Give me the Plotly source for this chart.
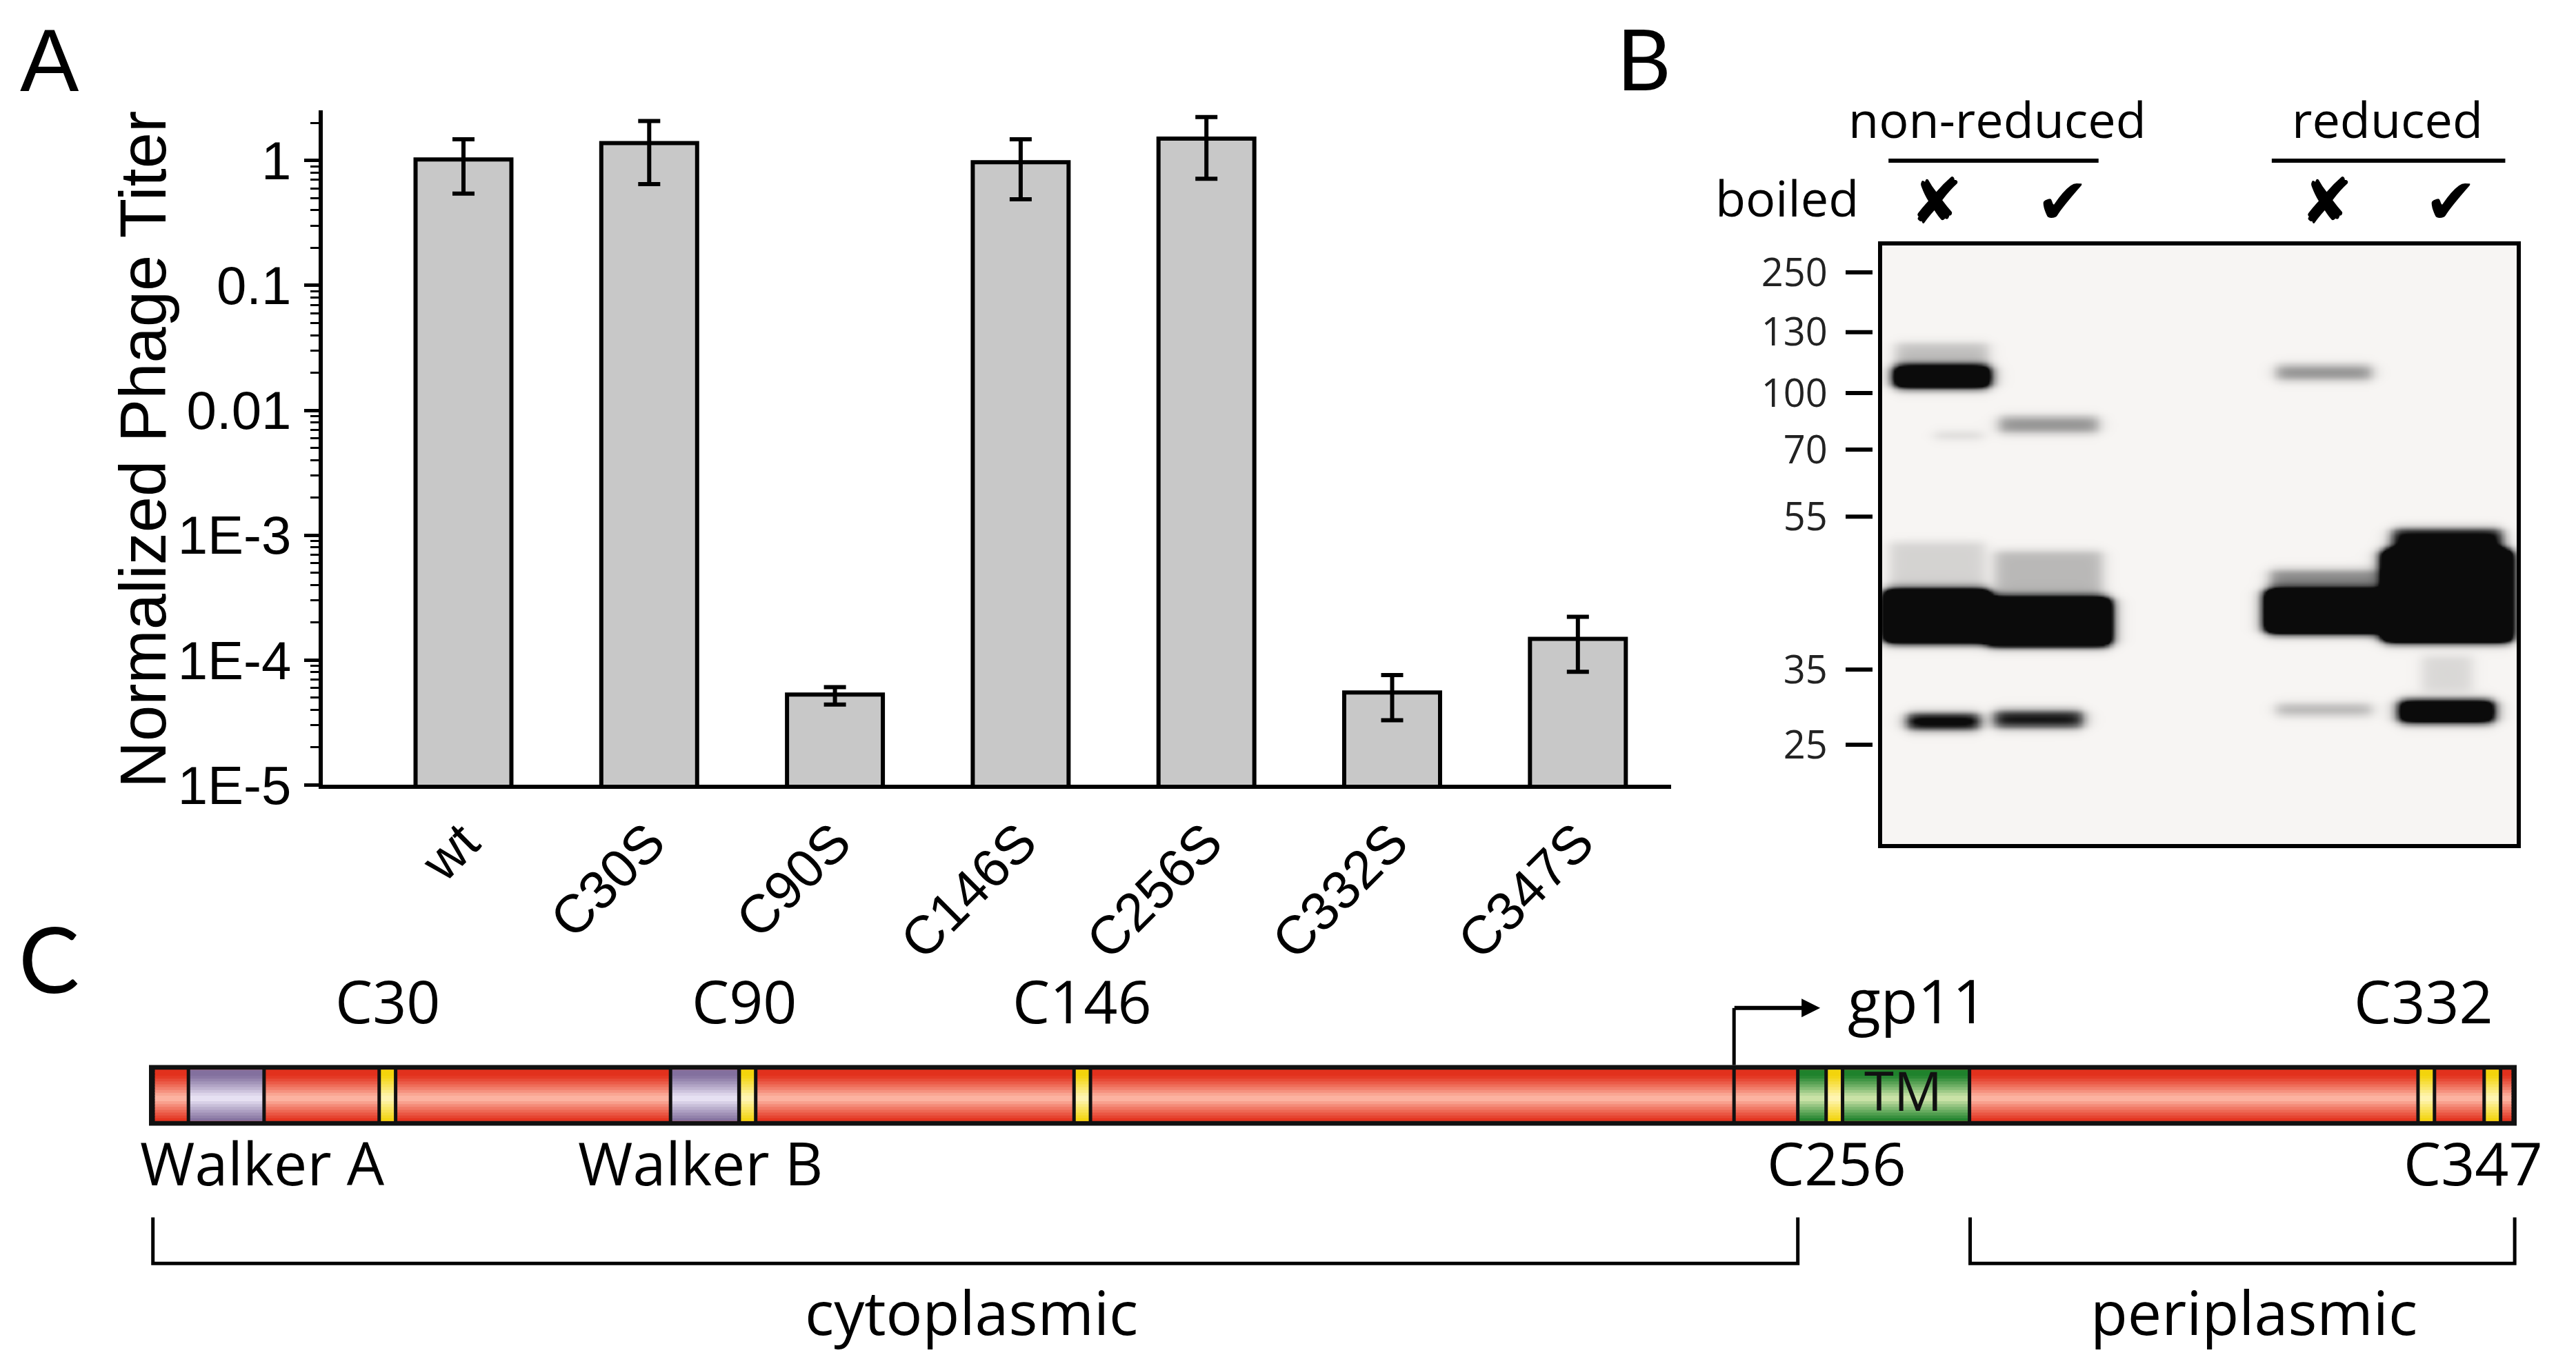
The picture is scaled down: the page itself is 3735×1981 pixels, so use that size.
import numpy as np
import plotly.graph_objects as go

W, H = 3735, 1981


def px(x):
    return x / W


def py(y):
    return 1 - y / H


# ---------------- Panel A data ----------------
mutants = ["wt", "C30S", "C90S", "C146S", "C256S", "C332S", "C347S"]
titer = [1.02, 1.38, 5.3e-5, 0.97, 1.50, 5.5e-5, 1.48e-4]
titer_hi = [1.48, 2.07, 6.07e-5, 1.48, 2.23, 7.6e-5, 2.22e-4]
titer_lo = [0.544, 0.647, 4.4e-5, 0.49, 0.716, 3.3e-5, 8.07e-5]
ytick_vals = [1e-5, 1e-4, 1e-3, 0.01, 0.1, 1]
ytick_text = ["1E-5", "1E-4", "1E-3", "0.01", "0.1", "1"]

# ---------------- Panel B data ----------------
mw_labels = ["250", "130", "100", "70", "55", "35", "25"]
mw_pos = [0.45, 1.45, 2.465, 3.41, 4.53, 7.085, 8.34]
lane_x = [0.85, 2.84, 7.01, 8.96]
lane_boiled = [False, True, False, True]
group_names = ["non-reduced", "reduced"]
group_center = [1.82, 7.96]
group_start = [0.10, 6.14]
group_end = [3.41, 9.82]
# bands: lane x-centre, half-width, migration centre, half-height, intensity
band_x = [0.94, 0.94, 1.20, 2.62, 6.96, 0.86, 0.86, 2.62, 2.62, 6.96, 6.96, 8.90, 8.90, 8.90, 0.96, 2.46, 6.96, 8.89]
band_hw = [0.73, 0.73, 0.38, 0.78, 0.75, 0.81, 0.75, 0.95, 0.85, 0.90, 0.85, 1.00, 0.85, 0.40, 0.56, 0.69, 0.75, 0.73]
band_y = [2.19, 1.85, 3.17, 2.99, 2.12, 6.19, 5.40, 6.28, 5.50, 6.11, 5.62, 5.85, 5.00, 7.15, 7.95, 7.91, 7.75, 7.78]
band_hh = [0.16, 0.22, 0.07, 0.13, 0.12, 0.42, 0.45, 0.38, 0.40, 0.34, 0.20, 0.75, 0.25, 0.30, 0.12, 0.13, 0.10, 0.17]
band_int = [2.5, 0.22, 0.10, 0.40, 0.40, 3.0, 0.14, 3.0, 0.25, 3.0, 0.45, 3.0, 1.2, 0.12, 1.2, 1.0, 0.25, 2.0]

# ---------------- Panel C data ----------------
bar_len = 360.0
domain_names = ["Walker A", "Walker B", "TM"]
domain_start = [6.0, 79.3, 250.7]
domain_end = [17.5, 89.7, 276.8]
domain_kind = ["walker", "walker", "tm"]
cys_names = ["C30", "C90", "C146", "C256", "C332", "C347"]
cys_pos = [36.25, 91.0, 141.9, 256.25, 346.25, 356.3]
gp11_start = 241.0
gp11_arrow_end = 254.1
labels_above = ["C30", "C90", "C146", "C332"]
labels_above_x = [36.3, 90.6, 141.9, 345.8]
labels_below = ["Walker A", "Walker B", "C256", "C347"]
labels_below_x = [17.3, 83.8, 256.6, 353.4]
region_names = ["cytoplasmic", "periplasmic"]
region_start = [0.6, 276.9]
region_end = [250.7, 359.7]
region_label_x = [125.0, 320.0]

ARIAL = "Liberation Sans, Arial, sans-serif"
MYRIAD = "Open Sans, Noto Sans, sans-serif"
LETTER = "Lato, Open Sans, sans-serif"

fig = go.Figure()

# Panel A bars
fig.add_trace(go.Bar(
    x=mutants, y=titer, width=0.516,
    marker=dict(color="#c8c8c8", line=dict(color="black", width=6)),
    error_y=dict(type="data", symmetric=False,
                 array=[h - v for h, v in zip(titer_hi, titer)],
                 arrayminus=[v - l for v, l in zip(titer, titer_lo)],
                 color="black", thickness=6, width=16),
    xaxis="x", yaxis="y", hoverinfo="skip"))

# Panel B blot (rendered from band list)
xg = np.linspace(0, 10, 401)
yg = np.linspace(0, 10, 401)
X, Y = np.meshgrid(xg, yg)
Z = np.zeros_like(X)
for cx, hw, cy, hh, inten in zip(band_x, band_hw, band_y, band_hh, band_int):
    fx = 1.0 / (1.0 + np.exp((np.abs(X - cx) - hw) / 0.06))
    fy = 1.0 / (1.0 + np.exp((np.abs(Y - cy) - hh) / 0.04))
    Z += inten * fx * fy
Z = np.round(np.clip(Z, 0, 1), 3)
fig.add_trace(go.Heatmap(
    x=xg, y=yg, z=Z, zmin=0, zmax=1, showscale=False, zsmooth="best",
    colorscale=[[0, "#f7f5f3"], [0.5, "#7a7a7a"], [1, "#0b0b0b"]],
    xaxis="x2", yaxis="y2", hoverinfo="skip"))

# Panel C anchor trace (invisible)
fig.add_trace(go.Scatter(x=cys_pos, y=[0] * len(cys_pos), mode="markers",
                         marker=dict(size=1, opacity=0), xaxis="x3", yaxis="y3",
                         hoverinfo="skip"))

shapes = []
annotations = []

# ---- Panel B decorations ----
for pos in mw_pos:
    shapes.append(dict(type="line", xref="paper", yref="y2",
                       x0=px(2668), x1=px(2707), y0=pos, y1=pos,
                       line=dict(color="black", width=6)))
for name, c, s, e in zip(group_names, group_center, group_start, group_end):
    shapes.append(dict(type="line", xref="x2", yref="paper", x0=s, x1=e,
                       y0=py(225), y1=py(225), line=dict(color="black", width=6)))
    annotations.append(dict(text=name, xref="x2", yref="paper", x=c, y=py(164),
                            showarrow=False, xanchor="center", yanchor="middle",
                            font=dict(family=MYRIAD, size=72, color="black")))
annotations.append(dict(text="boiled", xref="paper", yref="paper", x=px(2689), y=py(278),
                        showarrow=False, xanchor="right", yanchor="middle",
                        font=dict(family=MYRIAD, size=72, color="black")))
for lx, b in zip(lane_x, lane_boiled):
    annotations.append(dict(text="✔" if b else "✘", xref="x2", yref="paper", x=lx, y=py(284),
                            showarrow=False, xanchor="center", yanchor="middle",
                            font=dict(family="DejaVu Sans", size=92, color="black")))

# ---- Panel C diagram ----
def hx(c):
    c = c.lstrip("#")
    return tuple(int(c[i:i + 2], 16) for i in (0, 2, 4))


def mix(c1, c2, t):
    return "#%02x%02x%02x" % tuple(int(round(a + (b - a) * t)) for a, b in zip(c1, c2))


grad = {
    "red": (hx("#e2311d"), hx("#fcb2a0")),
    "walker": (hx("#83709e"), hx("#e6e0f2")),
    "tm": (hx("#1f822c"), hx("#c9e2a6")),
    "cys": (hx("#f3d40c"), hx("#fff5b0")),
}
N = 18
inner = 0.42


def stripes(x0, x1, kind):
    edge, centre = grad[kind]
    out = []
    for i in range(N):
        y0 = -inner + i * 2 * inner / N
        y1 = y0 + 2 * inner / N
        ym = (y0 + y1) / 2
        d = abs(ym + 0.04) / (inner + 0.04)
        t = min(1.0, max(0.0, (d - 0.08) / 0.72)) ** 0.9
        out.append(dict(type="rect", xref="x3", yref="y3", x0=x0, x1=x1,
                        y0=y0 - 0.004, y1=y1 + 0.004, line=dict(width=0),
                        fillcolor=mix(centre, edge, t), layer="above"))
    return out


shapes.append(dict(type="rect", xref="x3", yref="y3", x0=0, x1=bar_len, y0=-0.5, y1=0.5,
                   fillcolor="#111111", line=dict(width=0), layer="above"))
shapes += stripes(0.9, bar_len - 0.8, "red")
for s, e, k in zip(domain_start, domain_end, domain_kind):
    shapes += stripes(s, e, k)
for c in cys_pos:
    shapes += stripes(c - 1.25, c + 1.25, "cys")
dividers = list(domain_start) + list(domain_end) + [gp11_start]
dividers += [c - 1.25 for c in cys_pos] + [c + 1.25 for c in cys_pos]
for d in dividers:
    shapes.append(dict(type="line", xref="x3", yref="y3", x0=d, x1=d, y0=-0.46, y1=0.46,
                       line=dict(color="#111111", width=5), layer="above"))

# gp11 start arrow
shapes.append(dict(type="line", xref="x3", yref="y3", x0=gp11_start, x1=gp11_start,
                   y0=0.5, y1=1.44, line=dict(color="black", width=5), layer="above"))
annotations.append(dict(text="", xref="x3", yref="y3", x=gp11_arrow_end, y=1.44,
                        ax=gp11_start - 0.1, ay=1.44, axref="x3", ayref="y3",
                        showarrow=True, arrowhead=2, arrowsize=0.9, arrowwidth=6,
                        arrowcolor="black"))
annotations.append(dict(text="gp11", xref="x3", yref="y3", x=268.9, y=1.58,
                        showarrow=False, xanchor="center", yanchor="middle",
                        font=dict(family=MYRIAD, size=88, color="black")))
annotations.append(dict(text="TM", xref="x3", yref="y3",
                        x=(domain_start[2] + domain_end[2]) / 2 + 3.0, y=0.08,
                        showarrow=False, xanchor="center", yanchor="middle",
                        font=dict(family=MYRIAD, size=78, color="#111111")))
for t, x in zip(labels_above, labels_above_x):
    annotations.append(dict(text=t, xref="x3", yref="y3", x=x, y=1.57, showarrow=False,
                            xanchor="center", yanchor="middle",
                            font=dict(family=MYRIAD, size=86, color="black")))
for t, x in zip(labels_below, labels_below_x):
    annotations.append(dict(text=t, xref="x3", yref="y3", x=x, y=-1.10, showarrow=False,
                            xanchor="center", yanchor="middle",
                            font=dict(family=MYRIAD, size=86, color="black")))
for name, s, e, lx in zip(region_names, region_start, region_end, region_label_x):
    shapes.append(dict(type="path", xref="x3", yref="y3",
                       path=f"M {s},-2.01 L {s},-2.77 L {e},-2.77 L {e},-2.01",
                       line=dict(color="black", width=5)))
    annotations.append(dict(text=name, xref="x3", yref="y3", x=lx, y=-3.56, showarrow=False,
                            xanchor="center", yanchor="middle",
                            font=dict(family=MYRIAD, size=88, color="black")))

# ---- Panel A titles / letters ----
annotations.append(dict(text="Normalized Phage Titer", xref="paper", yref="paper",
                        x=px(199), y=py(644), textangle=-90, showarrow=False,
                        xanchor="center", yanchor="middle",
                        font=dict(family=ARIAL, size=94, color="black")))
annotations.append(dict(text="A", xref="paper", yref="paper", x=px(64), y=py(80),
                        showarrow=False, xanchor="center", yanchor="middle",
                        font=dict(family=ARIAL, size=128, color="black")))
annotations.append(dict(text="B", xref="paper", yref="paper", x=px(2375), y=py(76),
                        showarrow=False, xanchor="center", yanchor="middle",
                        font=dict(family=LETTER, size=122, color="black")))
annotations.append(dict(text="C", xref="paper", yref="paper", x=px(63), y=py(1381),
                        showarrow=False, xanchor="center", yanchor="middle",
                        font=dict(family=LETTER, size=132, color="black")))

minor_vals = [k * 10.0 ** e for e in range(-5, 1) for k in range(2, 10)]

fig.update_layout(
    width=W, height=H, margin=dict(l=0, r=0, t=0, b=0),
    paper_bgcolor="white", plot_bgcolor="white", showlegend=False,
    font=dict(family=ARIAL, color="black"),
    shapes=shapes, annotations=annotations,
    xaxis=dict(domain=[px(460), px(2415)], range=[-0.7575, 6.502], anchor="y",
               showline=True, linewidth=6, linecolor="black", ticks="", tickangle=-45,
               tickfont=dict(family=ARIAL, size=78, color="black"),
               showgrid=False, zeroline=False, automargin=False, fixedrange=True),
    yaxis=dict(domain=[py(1130.4), py(151.5)], type="log", range=[-5, 0.405], anchor="x",
               showline=True, linewidth=6, linecolor="black", ticks="outside",
               ticklen=21, tickwidth=5, tickcolor="black",
               tickmode="array", tickvals=ytick_vals, ticktext=ytick_text,
               tickfont=dict(family=ARIAL, size=78, color="black"),
               minor=dict(ticks="outside", ticklen=12, tickwidth=3, tickcolor="black",
                          tickmode="array", tickvals=minor_vals, showgrid=False),
               showgrid=False, zeroline=False, automargin=False, ticklabelstandoff=3),
    xaxis2=dict(domain=[px(2721), px(3641)], range=[0, 10], anchor="y2",
                showline=True, mirror=True,
                linewidth=6, linecolor="black", showticklabels=False, ticks="",
                showgrid=False, zeroline=False, automargin=False),
    yaxis2=dict(domain=[py(1216), py(348)], range=[10, 0], anchor="x2",
                showline=True, mirror=True,
                linewidth=6, linecolor="black", ticks="", tickmode="array",
                tickvals=mw_pos, ticktext=mw_labels,
                tickfont=dict(family=MYRIAD, size=56, color="#222222"),
                ticklabelstandoff=62, showgrid=False, zeroline=False, automargin=False),
    xaxis3=dict(domain=[px(208), px(3641)], range=[0, bar_len], anchor="y3", visible=False),
    yaxis3=dict(domain=[0, py(1300)], range=[-4.551, 3.188], anchor="x3", visible=False),
)

fig.write_html("out.html")
